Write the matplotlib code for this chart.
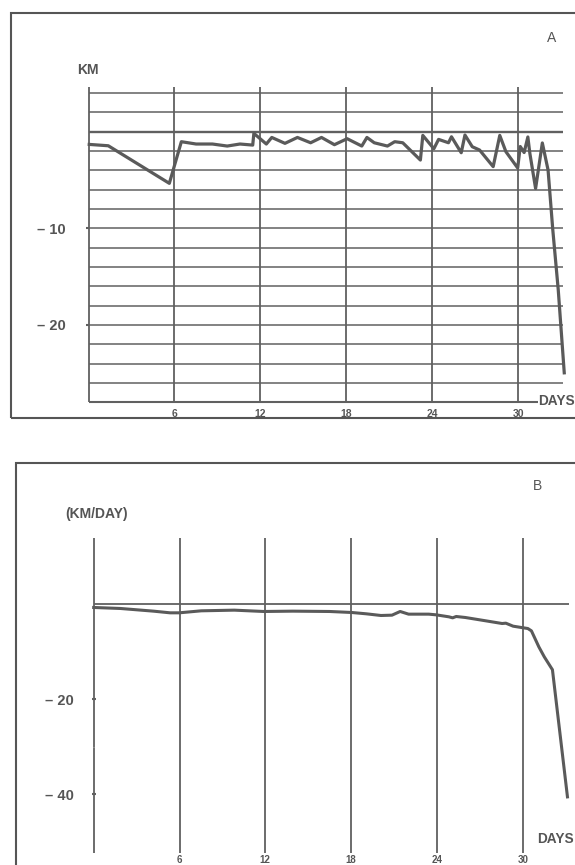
import matplotlib
matplotlib.use("Agg")
import matplotlib.pyplot as plt
from matplotlib.patches import Rectangle

plt.rcParams['font.family'] = ['Liberation Sans', 'DejaVu Sans']

# ---------------- data ----------------
# Panel A : displacement (KM) vs days
days_a = [0.05, 1.38, 5.64, 6.48, 7.51, 8.65, 9.68, 10.57, 11.46, 11.54, 12.41, 12.79,
          13.71, 14.58, 15.5, 16.26, 17.16, 18.05, 19.07, 19.43, 19.94, 20.86, 21.37,
          21.93, 23.16, 23.33, 24.1, 24.43, 25.12, 25.33, 26.01, 26.27, 26.78, 27.29,
          28.24, 28.7, 29.13, 29.95, 30.13, 30.4, 30.66, 30.8, 31.2, 31.67, 32.07,
          32.4, 32.78, 33.2]
km_a = [-1.31, -1.45, -5.34, -1.03, -1.27, -1.27, -1.48, -1.27, -1.38, -0.17, -1.27, -0.59,
        -1.2, -0.59, -1.14, -0.59, -1.34, -0.72, -1.48, -0.59, -1.14, -1.48, -1.03,
        -1.14, -2.93, -0.38, -1.76, -0.79, -1.14, -0.52, -2.17, -0.34, -1.55, -1.89,
        -3.61, -0.38, -2.07, -3.75, -1.53, -2.15, -0.54, -2.24, -5.87, -1.16, -3.96,
        -10.15, -16.35, -24.95]

# Panel B : rate (KM/DAY) vs days
days_b = [0.0, 1.87, 4.18, 5.34, 5.98, 7.52, 9.83, 11.88, 13.93, 16.5, 18.04, 19.07,
          20.09, 20.86, 21.43, 22.02, 23.43, 23.94, 24.84, 25.1, 25.35, 25.99, 27.28,
          28.56, 28.82, 29.33, 30.36, 30.61, 31.13, 31.51, 32.08, 33.13]
rate_b = [-0.8, -1.01, -1.57, -1.92, -1.92, -1.5, -1.36, -1.64, -1.57, -1.64, -1.85, -2.13,
          -2.48, -2.41, -1.64, -2.2, -2.2, -2.34, -2.76, -2.97, -2.69, -2.9, -3.53,
          -4.16, -4.09, -4.72, -5.21, -5.7, -9.06, -11.15, -13.85, -40.5]

day_ticks = [6, 12, 18, 24, 30]
a_ytick_vals = [-10, -20]
a_ytick_labels = ['\u2013 10', '\u2013 20']
b_ytick_vals = [-20, -40]
b_ytick_labels = ['\u2013 20', '\u2013 40']
a_grid_levels = list(range(-26, 5, 2))

# ---------------- style ----------------
W, H = 575, 865
INK = '#555555'
GRID = '#606060'
fig = plt.figure(figsize=(W / 100, H / 100), dpi=100)
fig.patch.set_facecolor('white')

def fx(px):
    return px / W

def fy(py):
    return 1 - py / H

# frames
fig.add_artist(Rectangle((fx(11), fy(418)), 1.2, fy(13) - fy(418), fill=False,
                         edgecolor=INK, linewidth=1.5, transform=fig.transFigure))
fig.add_artist(Rectangle((fx(16), -0.2), 1.2, fy(463.3) + 0.2, fill=False,
                         edgecolor=INK, linewidth=1.5, transform=fig.transFigure))

# ---------------- Panel A ----------------
axA = fig.add_axes([fx(88.5), fy(402.3), 33.35 * 14.33 / W, 315 / H])
axA.set_xlim(0, 33.35)
axA.set_ylim(-28, 4.6)
for s in axA.spines.values():
    s.set_visible(False)
axA.set_facecolor('none')

for lev in a_grid_levels:
    axA.hlines(lev, 0, 33.13, color=GRID, linewidth=1.7 if lev == 0 else 1.1,
               zorder=1, clip_on=False)
axA.hlines(-28, 0, 31.4, color=GRID, linewidth=1.5, zorder=1, clip_on=False)
axA.vlines([0] + day_ticks, -28, 4.6, color=GRID, linewidth=1.3, zorder=1, clip_on=False)
axA.plot(days_a, km_a, color='#5a5a5a', linewidth=2.3, zorder=3, clip_on=False)

axA.set_xticks(day_ticks)
axA.set_xticklabels([str(d) for d in day_ticks], fontsize=7.5, fontweight='bold', color=INK)
axA.tick_params(axis='x', length=0, pad=5)
axA.set_yticks(a_ytick_vals)
axA.set_yticklabels(a_ytick_labels, fontsize=10.5, fontweight='bold', color=INK)
axA.tick_params(axis='y', length=2.5, width=1.5, color=GRID, pad=14)

fig.text(fx(88), fy(69.5), 'KM', ha='center', va='center', fontsize=10,
         fontweight='bold', color=INK)
fig.text(fx(552), fy(38.5), 'A', ha='center', va='center', fontsize=10,
         color=INK)
fig.text(fx(538), fy(401), 'DAYS', ha='left', va='center', fontsize=9.8,
         fontweight='bold', color=INK)

# ---------------- Panel B ----------------
axB = fig.add_axes([fx(93.7), fy(852.7), 33.4 * 14.3 / W, 314.4 / H])
axB.set_xlim(0, 33.4)
axB.set_ylim(-52.2, 13.7)
for s in axB.spines.values():
    s.set_visible(False)
axB.set_facecolor('none')

axB.hlines(0, 0, 33.26, color=GRID, linewidth=1.3, zorder=1, clip_on=False)
axB.vlines([0] + day_ticks, -52.2, 13.7, color=GRID, linewidth=1.3, zorder=1, clip_on=False)
axB.plot(days_b, rate_b, color='#5a5a5a', linewidth=2.2, zorder=3, clip_on=False)

axB.set_xticks(day_ticks)
axB.set_xticklabels([str(d) for d in day_ticks], fontsize=7, fontweight='bold', color=INK)
axB.tick_params(axis='x', length=0, pad=1.5)
axB.set_yticks(b_ytick_vals)
axB.set_yticklabels(b_ytick_labels, fontsize=10.5, fontweight='bold', color=INK)
axB.set_yticks([-30], minor=True)
axB.tick_params(axis='y', which='major', length=3, width=1.5, color=GRID, pad=13,
                direction='inout')
axB.tick_params(axis='y', which='minor', length=1, width=0.8, color='#aaaaaa')

fig.text(fx(97), fy(514), '(KM/DAY)', ha='center', va='center', fontsize=10,
         fontweight='bold', color=INK)
fig.text(fx(538), fy(486), 'B', ha='center', va='center', fontsize=10, color=INK)
fig.text(fx(537), fy(839), 'DAYS', ha='left', va='center', fontsize=9.8,
         fontweight='bold', color=INK)

fig.savefig('out.png', dpi=100, facecolor='white')
